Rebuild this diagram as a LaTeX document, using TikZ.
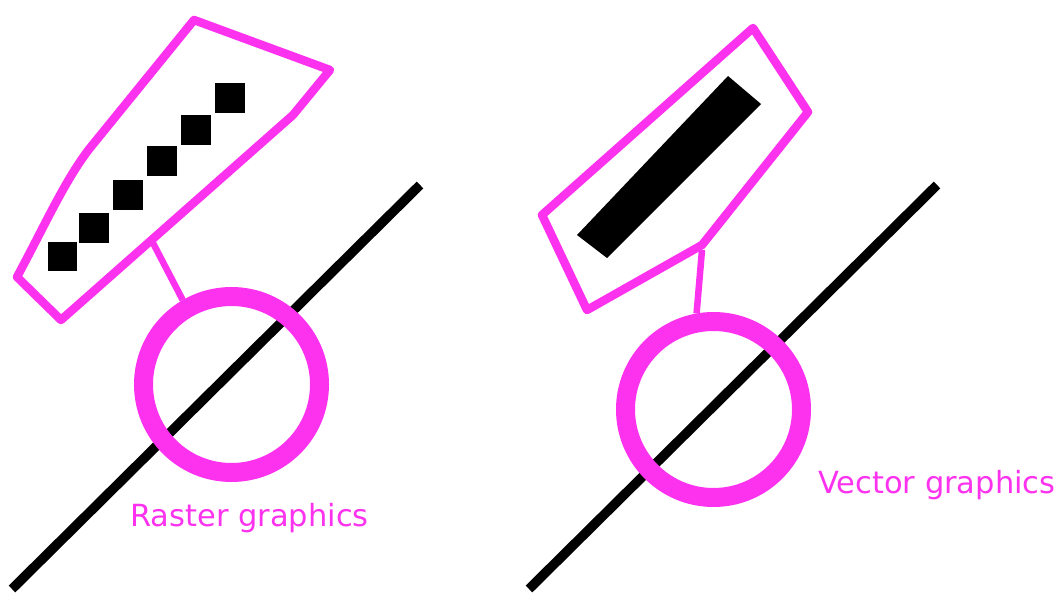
\documentclass[tikz,border=0pt]{standalone}
\usepackage{fontspec}
\setmainfont{DejaVu Sans}
\definecolor{pinkm}{RGB}{252,50,238}
\begin{document}
\begin{tikzpicture}[x=1pt,y=-1pt,
  outline/.style={draw=pinkm,line width=8.5pt,line join=round,line cap=round},
  ring/.style={circle,draw=pinkm,line width=19pt,minimum size=176pt,inner sep=0pt},
  stem/.style={draw=pinkm,line width=6.5pt},
  axis/.style={draw=black,line width=9.5pt},
  px/.style={fill=black,minimum size=29.5pt,inner sep=0pt,draw=none},
  lbl/.style={text=pinkm,font=\fontsize{30.5}{36}\selectfont,anchor=base west,inner sep=0pt}]
\useasboundingbox (0,0) rectangle (1062,593);
% ---------- left: raster ----------
\coordinate (L1) at (12,589);
\coordinate (L2) at (420,185);
\draw[axis] (L1) -- (L2);
\node[ring] (lc) at (231.5,384.5) {};
\draw[outline] (194,20) -- (330,70) -- (293,115) -- (61,320) -- (17,277)
  .. controls (45,225) and (65,180) .. (90,148) -- cycle;
\coordinate (ls) at (153,243);
\draw[stem] (ls) -- (lc.120);
\foreach \i/\cx/\cy in {1/62.5/256.5,2/94/228,3/128/195,4/162/161,5/196/130,6/230/98}
  \node[px] (sq\i) at (\cx,\cy) {};
\node[lbl] (lt) at (130,526) {Raster graphics};
% ---------- right: vector ----------
\coordinate (R1) at (529,589);
\coordinate (R2) at (937,185);
\draw[axis] (R1) -- (R2);
\node[ring] (rc) at (713.5,409.5) {};
\draw[outline] (753,28) -- (808,112) -- (702,245) -- (587,310) -- (542,215) -- cycle;
\coordinate (rs) at (702,250);
\draw[stem] (rs) -- (rc.100);
\fill[black] (728,76) -- (761,104) -- (607,258) -- (577,235) -- cycle;
\node[lbl] (rt) at (818,493) {Vector graphics};
\end{tikzpicture}
\end{document}
